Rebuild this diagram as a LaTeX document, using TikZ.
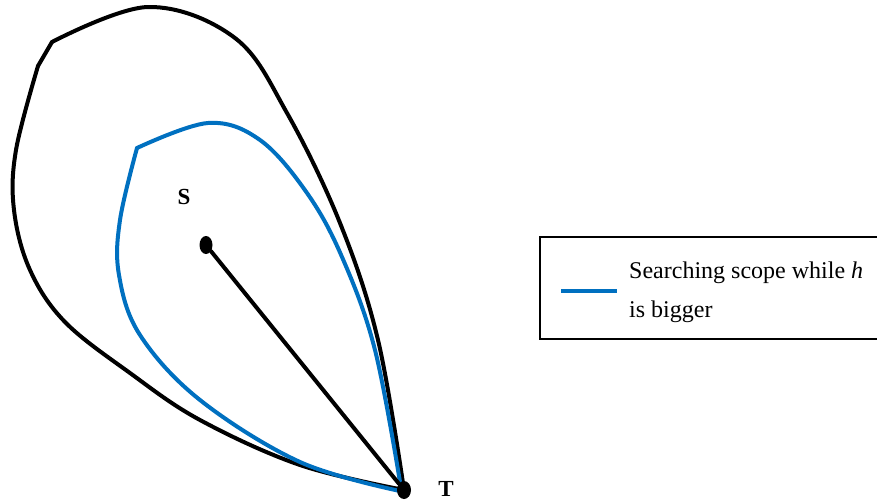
\documentclass[tikz,border=0pt]{standalone}
\usepackage{fontspec}
\setmainfont{Liberation Serif}
\usepackage{xcolor}
\usepackage{tikz}
\usetikzlibrary{shapes.geometric, positioning}
\definecolor{scopeblue}{RGB}{0,112,192}
\tikzset{
  outer/.style={line width=4pt, black, line cap=round, line join=round},
  inner/.style={line width=4pt, scopeblue, line cap=round, line join=round},
  dot/.style={ellipse, fill=black, inner sep=0pt, minimum width=13pt, minimum height=18pt},
  lbl/.style={font=\fontsize{23}{27}\selectfont\bfseries},
  legtext/.style={anchor=base west, inner sep=0pt, font=\fontsize{24}{28}\selectfont},
  legendbox/.style={draw=black, line width=1.6pt}
}

\begin{document}
\begin{tikzpicture}[x=1pt, y=-1pt]
  \useasboundingbox (0,0) rectangle (877,501);
  % Outer scope
  \draw[outer] plot[smooth, tension=0.6] coordinates {(52,42) (148,7) (235,38) (287,113) (340,223) (378,340) (404,490)};
  \draw[outer] (52,42) -- (38,66);
  \draw[outer] plot[smooth, tension=0.6] coordinates {(38,66) (16,150) (14,210) (30,270) (65,322) (130,373) (200,420) (300,465) (404,490)};
  % Inner scope
  \draw[inner] plot[smooth, tension=0.6] coordinates {(137,148) (208,123) (260,140) (307,193) (342,257) (375,350) (401,488)};
  \draw[inner] plot[smooth, tension=0.6] coordinates {(137,148) (120,220) (119,275) (140,335) (200,400) (300,462) (400,491)};
  % S and T
  \node[dot] (s) at (206,245) {};
  \node[dot, minimum width=14pt] (t) at (404,490) {};
  \draw[outer] (s) -- (t);
  \node[lbl] (slbl) at (184,197) {S};
  \node[lbl] (tlbl) at (446,489) {T};
  % Legend
  \draw[legendbox] (540,237) rectangle (890,339);
  \coordinate (leg1) at (561,291);
  \coordinate (leg2) at (617,291);
  \draw[inner, line cap=butt] (leg1) -- (leg2);
  \node[legtext] (legtxt1) at (629,278) {Searching scope while \textit{h}};
  \node[legtext] (legtxt2) at (629,317) {is bigger};
\end{tikzpicture}
\end{document}
